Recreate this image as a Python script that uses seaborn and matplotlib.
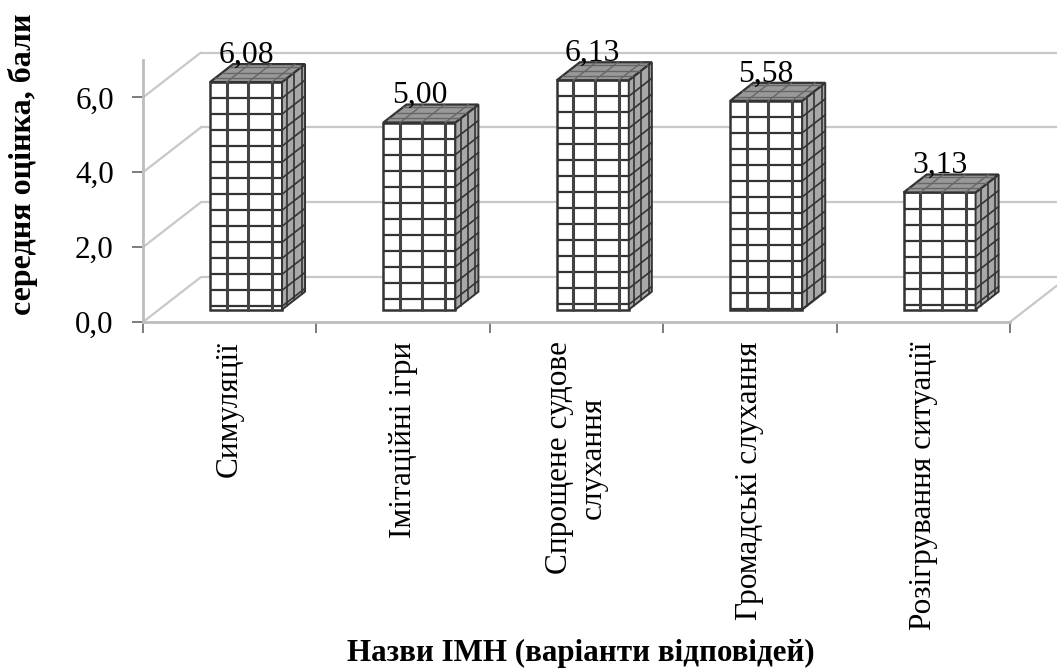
import numpy as np
import pandas as pd
import seaborn as sns
import matplotlib
matplotlib.use("Agg")
import matplotlib.pyplot as plt
from matplotlib.patches import Polygon

categories = [
    "Симуляції",
    "Імітаційні ігри",
    "Спрощене судове\nслухання",
    "Громадські слухання",
    "Розігрування ситуації",
]
values = [6.08, 5.00, 6.13, 5.58, 3.13]
value_labels = ["6,08", "5,00", "6,13", "5,58", "3,13"]
y_ticks = [0, 2, 4, 6]
y_tick_labels = ["0,0", "2,0", "4,0", "6,0"]

W, H = 1057, 669
LINE = "#333333"
WALL = "#c8c8c8"
AXIS = "#bdbdbd"

# 3d look, all in data units
BAR_W = 0.415
BAR_SHIFT = 0.094
BAR_BASE = 0.33
BAR_DX, BAR_DY = 0.133, 0.48
WALL_DX, WALL_DY = 0.334, 1.2
ROW_STEP = 0.428
COLS = [0.23, 0.53, 0.86]

sns.set_theme(style="white")
plt.rcParams["font.family"] = ["Liberation Serif", "DejaVu Serif"]
plt.rcParams["text.color"] = "black"

fig = plt.figure(figsize=(W / 100, H / 100), dpi=100, facecolor="white")
ax = fig.add_axes([143 / W, 1 - 322 / H, 867 / W, 262 / H])

df = pd.DataFrame({"cat": categories, "val": values})
sns.barplot(
    data=df, x="cat", y="val", ax=ax, bottom=BAR_BASE, width=BAR_W,
    color="white", saturation=1, edgecolor=LINE, linewidth=1.8, zorder=3, errorbar=None,
)
for p in ax.patches:
    p.set_x(p.get_x() + BAR_SHIFT)

ax.set_xlim(-0.5, len(categories) - 0.5)
ax.set_ylim(0, 7)

# back wall and floor lines
for t in y_ticks:
    ax.plot([-0.5, -0.5 + WALL_DX], [t, t + WALL_DY], color=WALL, lw=1.6, clip_on=False, zorder=1)
    ax.plot([-0.5 + WALL_DX, 5.0], [t + WALL_DY, t + WALL_DY], color=WALL, lw=1.6, clip_on=False, zorder=1)
ax.plot([4.5, 4.5 + WALL_DX], [0, WALL_DY], color=WALL, lw=1.6, clip_on=False, zorder=1)

for i, v in enumerate(values):
    x0 = i - BAR_W / 2 + BAR_SHIFT
    x1 = x0 + BAR_W
    y0 = BAR_BASE
    y1 = BAR_BASE + v

    # side and top faces
    ax.add_patch(Polygon([(x1, y0), (x1 + BAR_DX, y0 + BAR_DY), (x1 + BAR_DX, y1 + BAR_DY), (x1, y1)],
                         fc="#a8a8a8", ec=LINE, lw=1.4, zorder=3, clip_on=False))
    ax.add_patch(Polygon([(x0, y1), (x0 + BAR_DX, y1 + BAR_DY), (x1 + BAR_DX, y1 + BAR_DY), (x1, y1)],
                         fc="#999999", ec=LINE, lw=1.6, zorder=3, clip_on=False))

    # grid on the faces
    rows = np.arange(y1 - ROW_STEP, y0, -ROW_STEP)
    ax.hlines(rows, x0, x1, color=LINE, lw=1.6, zorder=4)
    for r in rows:
        ax.plot([x1, x1 + BAR_DX], [r, r + BAR_DY], color=LINE, lw=1.2, zorder=4, clip_on=False)
    for c in COLS:
        xc = x0 + c * BAR_W
        ax.plot([xc, xc], [y0, y1], color="#444444", lw=2.2, zorder=4)
        ax.plot([xc, xc + BAR_DX], [y1, y1 + BAR_DY], color="#666666", lw=1.0, zorder=4, clip_on=False)
        ax.plot([x0 + c * BAR_DX, x0 + c * BAR_DX + BAR_W], [y1 + c * BAR_DY] * 2,
                color="#666666", lw=1.0, zorder=4, clip_on=False)
        sx = x1 + c * BAR_DX
        sy = c * BAR_DY
        ax.plot([sx, sx], [y0 + sy, y1 + sy], color=LINE, lw=1.2, zorder=4, clip_on=False)

    ax.text(i + BAR_SHIFT, y1 + 0.52, value_labels[i], ha="center", va="baseline",
            fontsize=22.8, color="black", zorder=5, clip_on=False)

for side in ["top", "right"]:
    ax.spines[side].set_visible(False)
for side in ["left", "bottom"]:
    ax.spines[side].set_color(AXIS)
    ax.spines[side].set_linewidth(2.0)

ax.set_yticks(y_ticks)
ax.set_yticklabels(y_tick_labels, fontsize=22.4, color="black")
ax.set_xticks(np.arange(-0.5, len(categories)), minor=False)
ax.set_xticklabels([])
ax.tick_params(axis="both", length=8, width=1.2, color="#666666", bottom=True, left=True)
ax.tick_params(axis="y", pad=13)
ax.set_xlabel("")
ax.set_ylabel("")

for i, c in enumerate(categories):
    ax.annotate(c, (i, 0), xytext=(0, -14), textcoords="offset points", rotation=90,
                ha="center", va="top", multialignment="center", fontsize=22.5, annotation_clip=False)

fig.text(23 / W, 1 - 164 / H, "середня оцінка, бали", rotation=90, ha="center", va="center",
         fontsize=23, fontweight="bold")
fig.text(581 / W, 1 - 653 / H, "Назви ІМН (варіанти відповідей)", ha="center", va="center",
         fontsize=22.3, fontweight="bold")

fig.savefig("out.png", dpi=100)
